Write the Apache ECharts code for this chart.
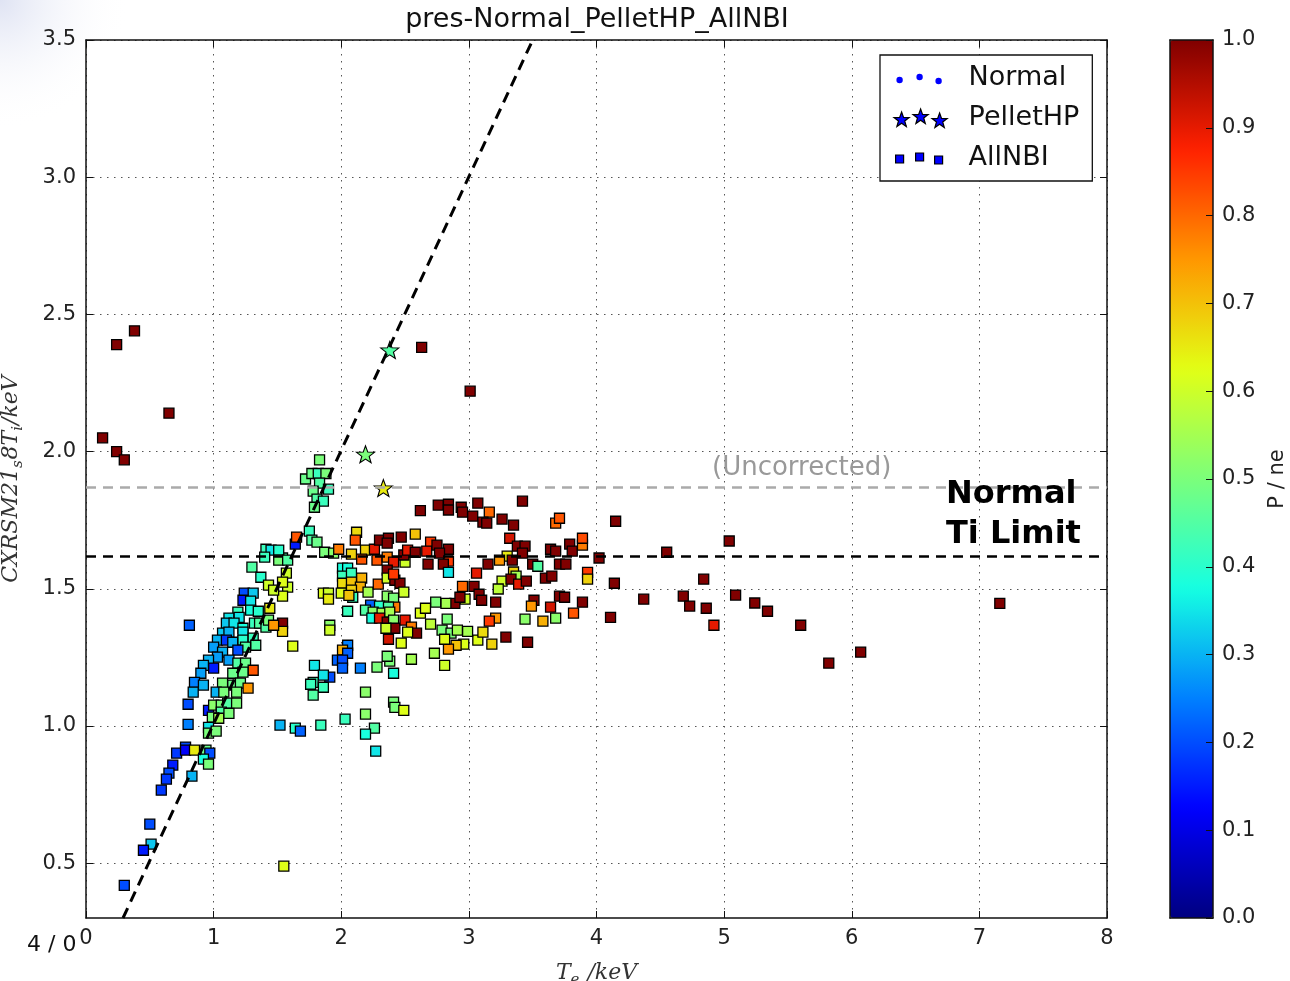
<!DOCTYPE html>
<html><head><meta charset="utf-8">
<script src="https://cdn.jsdelivr.net/npm/echarts@6/dist/echarts.min.js"></script>
<style>html,body{margin:0;padding:0;background:#fff}#c{width:1290px;height:981px}</style>
</head><body><div id="c"></div>
<script>
// ---------- data (Te [keV], Ti [keV], P/ne) ----------
const xTicks = [0, 1, 2, 3, 4, 5, 6, 7, 8];
const yTicks = [0.5, 1.0, 1.5, 2.0, 2.5, 3.0, 3.5];
const cbTicks = [0, 0.1, 0.2, 0.3, 0.4, 0.5, 0.6, 0.7, 0.8, 0.9, 1.0];
const normalTiLimit = 1.62;
const uncorrectedLimit = 1.87;
const diagonalLine = [[0.29, 0.3], [3.5, 3.5]];

const pelletHP = [[2.38, 2.37, 0.45], [2.19, 1.99, 0.5], [2.33, 1.867, 0.65]];

const allNbiHighTi = [[0.13,2.05,1],[0.24,2.39,1],[0.38,2.44,1],[0.24,2.00,1],[0.30,1.97,1],[0.65,2.14,1],[2.63,2.38,1],[3.01,2.22,1]];

const allNbiGreenCluster = [[1.83,1.97,0.5],[1.72,1.90,0.48],[1.77,1.92,0.48],[1.82,1.92,0.42],[1.88,1.92,0.5],[1.83,1.885,0.45],[1.90,1.863,0.42],[1.78,1.856,0.48],[1.81,1.827,0.45],[1.86,1.819,0.42],[1.79,1.797,0.48],[1.75,1.71,0.42],[1.77,1.677,0.45],[1.81,1.67,0.48],[1.87,1.633,0.5],[1.94,1.63,0.52],[1.98,1.644,0.78],[1.64,1.663,0.15],[1.65,1.688,0.82]];

const allNbiMidBand = [[2.12,1.706,0.67],[2.11,1.677,0.82],[2.19,1.641,0.68],[2.08,1.626,0.68],[2.16,1.608,0.82],[2.26,1.644,0.9],[2.30,1.677,1],[2.37,1.684,1],[2.47,1.688,1],[2.58,1.699,0.7],[2.36,1.666,1],[2.28,1.604,0.82],[2.36,1.615,0.78],[2.41,1.597,0.9],[2.50,1.597,0.6],[2.49,1.623,1],[2.52,1.641,0.9],[2.58,1.633,1],[2.62,1.785,1],
[1.54,1.612,0.45],[1.57,1.557,0.6],[1.58,1.506,0.6],[1.54,1.473,0.62],
[2.01,1.575,0.38],[2.05,1.575,0.38],[2.01,1.546,0.42],[2.08,1.557,0.42],[2.01,1.52,0.67],[2.08,1.524,0.7],[2.16,1.539,0.72],[2.15,1.506,0.72],[2.08,1.495,0.68],[2.09,1.469,0.42],[2.21,1.488,0.55],[2.29,1.517,0.8],[2.36,1.568,1],[2.36,1.539,0.6],[2.42,1.531,1],[2.46,1.52,1],[2.41,1.553,0.85],[2.49,1.488,0.6],[2.36,1.473,0.52],[2.41,1.466,0.5],[2.42,1.433,0.78],[2.23,1.44,0.22],[2.30,1.437,0.4],[2.37,1.433,0.45],[2.19,1.422,0.45],[2.25,1.415,0.52],[2.32,1.411,0.55],[2.38,1.415,0.55],[2.24,1.393,0.38],[2.30,1.393,0.9],[2.36,1.378,1],[2.41,1.386,0.52],[2.42,1.356,1],[2.35,1.356,0.6],[2.50,1.386,0.9],[2.55,1.36,0.78],[2.59,1.338,1],[2.52,1.342,0.62],[2.37,1.316,0.92],[2.47,1.302,0.62],[2.62,1.411,0.62],[2.05,1.418,0.42],[1.86,1.484,0.62],[1.90,1.484,0.6],[1.90,1.462,0.65],[2.00,1.484,0.62],[2.06,1.476,0.7],[1.91,1.367,0.52],[1.91,1.349,0.6],[1.54,1.375,1],[1.54,1.345,0.68],[1.62,1.291,0.62]];

const allNbiLowMid = [[2.05,1.294,0.25],[2.01,1.276,0.72],[2.05,1.265,0.22],[1.97,1.24,0.22],[2.01,1.24,0.2],[2.01,1.211,0.22],[2.15,1.211,0.25],[1.79,1.221,0.35],[1.91,1.178,0.2],[1.86,1.185,0.35],[1.78,1.159,0.42],[1.76,1.152,0.42],[1.86,1.141,0.42],[1.78,1.112,0.45],[2.19,1.123,0.52],[2.19,1.043,0.52],[2.03,1.025,0.42],[1.84,1.003,0.42],[1.52,1.003,0.3],[1.64,0.992,0.4],[1.68,0.981,0.22],[2.26,0.992,0.45],[2.19,0.97,0.38],[2.27,0.908,0.35],[2.41,1.087,0.5],[2.42,1.068,0.5],[2.49,1.057,0.62],[2.55,1.243,0.55],[2.38,1.236,0.5],[2.36,1.254,0.5],[2.28,1.214,0.5],[2.41,1.192,0.38],[2.81,1.221,0.6]];

const allNbiLowLeft = [[0.80,1.079,0.2],[0.80,1.006,0.25],[0.96,1.057,0.15],[1.00,1.076,0.52],[1.06,1.076,0.5],[1.11,1.083,0.45],[1.18,1.083,0.5],[0.99,1.032,0.5],[1.06,1.05,0.45],[1.04,1.028,0.55],[1.12,1.046,0.5],[0.96,0.995,0.35],[0.96,0.974,0.5],[1.02,0.981,0.5],[0.78,0.923,0.2],[0.71,0.901,0.18],[0.78,0.912,0.12],[0.85,0.912,0.65],[0.68,0.857,0.15],[0.65,0.828,0.2],[0.63,0.806,0.18],[0.83,0.817,0.3],[0.94,0.912,0.48],[0.97,0.901,0.2],[0.92,0.879,0.38],[0.96,0.861,0.5],[0.59,0.766,0.18],[0.50,0.642,0.2],[0.51,0.569,0.32],[0.45,0.547,0.15],[0.30,0.419,0.2],[1.55,0.489,0.62]];

const allNbiMainCluster = [[0.81,1.367,0.22],[1.41,1.644,0.42],[1.45,1.641,0.35],[1.51,1.641,0.4],[1.40,1.615,0.42],[1.51,1.604,0.5],[1.58,1.604,0.45],[1.30,1.579,0.45],[1.37,1.542,0.4],[1.43,1.513,0.6],[1.54,1.524,0.62],[1.47,1.495,0.6],[1.44,1.429,0.65],[1.24,1.484,0.2],[1.31,1.484,0.32],[1.23,1.458,0.15],[1.29,1.455,0.35],[1.29,1.422,0.38],[1.35,1.418,0.4],[1.19,1.415,0.42],[1.12,1.393,0.35],[1.20,1.396,0.35],[1.10,1.375,0.32],[1.16,1.375,0.35],[1.23,1.356,0.38],[1.32,1.375,0.42],[1.36,1.375,0.45],[1.41,1.36,0.45],[1.43,1.386,0.5],[1.47,1.367,0.75],[1.07,1.338,0.32],[1.12,1.342,0.3],[1.23,1.342,0.35],[1.03,1.313,0.3],[1.10,1.313,0.18],[1.15,1.305,0.3],[1.23,1.313,0.4],[1.31,1.32,0.42],[1.33,1.294,0.45],[1.25,1.287,0.45],[1.19,1.276,0.2],[1.00,1.287,0.28],[1.07,1.269,0.3],[1.03,1.251,0.28],[0.96,1.24,0.3],[1.12,1.24,0.28],[1.19,1.229,0.45],[1.25,1.229,0.48],[1.31,1.203,0.82],[1.23,1.196,0.48],[1.15,1.192,0.48],[1.00,1.211,0.15],[0.92,1.221,0.3],[0.90,1.192,0.28],[0.85,1.159,0.25],[0.92,1.149,0.3],[1.07,1.156,0.5],[1.15,1.149,0.48],[1.21,1.156,0.48],[1.27,1.138,0.75],[0.84,1.123,0.3],[1.02,1.123,0.3],[1.08,1.123,0.5],[1.18,1.123,0.5]];

const allNbiRightMid = [[2.76,1.805,1],[2.84,1.808,1],[2.84,1.787,1],[2.94,1.797,1],[2.95,1.779,1],[3.07,1.812,1],[3.03,1.765,1],[3.16,1.779,0.8],[3.11,1.743,1],[3.14,1.739,1],[3.26,1.754,1],[3.35,1.732,1],[3.42,1.819,1],[3.68,1.739,0.8],[3.71,1.757,0.82],
[2.70,1.67,0.85],[2.67,1.637,0.9],[2.75,1.659,1],[2.84,1.644,1],[2.84,1.601,0.85],[2.77,1.63,1],[2.68,1.59,1],[2.80,1.59,1],[2.84,1.56,0.35],[3.32,1.684,0.92],[3.38,1.655,1],[3.44,1.655,1],[3.42,1.63,1],[3.30,1.619,0.65],[3.24,1.604,0.75],[3.34,1.604,1],[3.15,1.59,1],[3.06,1.557,0.9],[2.95,1.509,0.8],[3.04,1.509,1],[3.08,1.48,1],[3.10,1.458,1],[3.21,1.451,1],[3.26,1.528,0.6],[3.23,1.499,0.58],[3.35,1.561,0.68],[3.37,1.546,0.55],[3.33,1.535,1],[3.39,1.517,0.9],[3.45,1.528,1],[3.50,1.59,1],[3.54,1.582,0.45],[3.60,1.539,1],[3.65,1.546,1],[3.64,1.644,1],[3.68,1.637,1],[3.71,1.59,1],[3.76,1.59,1],[3.79,1.663,1],[3.81,1.637,1],[3.51,1.458,1],[3.49,1.437,0.75],[3.64,1.433,0.92],[3.71,1.473,1],[3.75,1.469,1],[3.82,1.411,0.82],[3.68,1.393,0.52],[3.58,1.382,0.72],[3.44,1.389,0.52],[3.46,1.305,1],[3.29,1.324,1],[3.21,1.393,0.75],[3.16,1.382,0.85],[3.18,1.298,0.68],[3.07,1.313,0.62],[3.11,1.342,0.67],[2.99,1.345,0.55],[2.96,1.298,0.62],[2.90,1.294,0.7],[2.84,1.28,0.75],[2.73,1.265,0.55],[2.97,1.462,0.6],[2.89,1.447,1],[2.93,1.469,1],[2.82,1.447,0.55],[2.74,1.451,0.5],[2.66,1.429,0.62],[2.70,1.371,0.58],[2.83,1.389,0.5],[2.79,1.349,0.5],[2.86,1.338,0.5],[2.91,1.349,0.55],[2.81,1.316,0.62]];

const allNbiRightTail = [[4.15,1.746,1],[4.02,1.612,1],[4.55,1.633,1],[5.04,1.674,1],[4.14,1.52,1],[4.84,1.535,1],[4.37,1.462,1],[4.68,1.473,1],[4.73,1.437,1],[4.86,1.429,1],[4.92,1.367,0.9],[4.11,1.396,1],[5.09,1.477,1],[5.24,1.448,1],[5.34,1.418,1],[5.60,1.367,1],[5.82,1.229,1],[6.07,1.269,1],[7.16,1.447,1],[3.89,1.451,1],[3.93,1.56,0.85],[3.93,1.535,0.68],[3.89,1.659,0.78],[3.89,1.684,0.83]];

const allNBI = [].concat(allNbiHighTi, allNbiGreenCluster, allNbiMidBand, allNbiLowMid, allNbiLowLeft, allNbiMainCluster, allNbiRightMid, allNbiRightTail);

// ---------- styling helpers ----------
const jet = ['#000080','#0000ff','#0080ff','#15ffe2','#7bff7b','#e2ff15','#ff9700','#ff2100','#800000'];
function starPath(cx, cy, R) {
  const r = R * 0.41, pts = [];
  for (let k = 0; k < 10; k++) {
    const a = -Math.PI / 2 + k * Math.PI / 5, rr = k % 2 ? r : R;
    pts.push((cx + rr * Math.cos(a)).toFixed(2) + ',' + (cy + rr * Math.sin(a)).toFixed(2));
  }
  return 'M' + pts.join('L') + 'Z';
}
function circlePath(cx, cy, r) {
  return 'M' + (cx - r) + ',' + cy + 'a' + r + ',' + r + ' 0 1,0 ' + (2 * r) + ',0a' + r + ',' + r + ' 0 1,0 ' + (-2 * r) + ',0Z';
}
const box = 'M0,0M54,22';
const iconDots = 'path://' + box + circlePath(6, 13, 3.2) + circlePath(26, 10, 3.2) + circlePath(45, 14, 3.2);
const iconStars = 'path://' + box + starPath(8, 13, 8) + starPath(27, 10, 8) + starPath(46, 14, 8);
const iconSquares = 'path://' + box + 'M2,8h8v8h-8zM22,6h8v8h-8zM41,9h8v8h-8z';

const sansFont = 'DejaVu Sans';
const tickLbl = { fontSize: 21, color: '#222', fontFamily: sansFont };
const frameLine = { show: true, onZero: false, lineStyle: { color: '#111', width: 1.5 } };
const gridDots = { show: true, lineStyle: { color: '#555', width: 1, type: [1.5, 5.5] } };
const mathRich = {
  t: { fontFamily: 'DejaVu Serif', fontStyle: 'italic', fontSize: 22, color: '#333', lineHeight: 30 },
  s: { fontFamily: 'DejaVu Serif', fontStyle: 'italic', fontSize: 15, color: '#333', lineHeight: 30, verticalAlign: 'bottom', padding: [0, 1, 0, 0] }
};

const chart = echarts.init(document.getElementById('c'), null, { renderer: 'canvas' });
chart.setOption({
  animation: false,
  backgroundColor: '#fff',
  grid: [
    { left: 86, top: 40, width: 1021, height: 878, show: true, backgroundColor: '#fff', borderWidth: 0, containLabel: false, outerBoundsMode: 'none' },
    { left: 1170, top: 40, width: 43, height: 878, show: false, containLabel: false, outerBoundsMode: 'none' }
  ],
  xAxis: [
    { gridIndex: 0, type: 'value', min: xTicks[0], max: xTicks[xTicks.length - 1], interval: 1, position: 'bottom',
      axisLine: frameLine, axisTick: { show: true, inside: true, length: 7, lineStyle: { color: '#111' } },
      axisLabel: Object.assign({ margin: 10 }, tickLbl), splitLine: gridDots,
      name: '{t|T}{s|e}{t| /keV}', nameLocation: 'middle', nameGap: 40, nameTextStyle: { rich: mathRich } },
    { gridIndex: 0, type: 'value', min: xTicks[0], max: xTicks[xTicks.length - 1], interval: 1, position: 'top',
      axisLine: frameLine, axisTick: { show: true, inside: true, length: 7, lineStyle: { color: '#111' } },
      axisLabel: { show: false }, splitLine: { show: false } },
    { gridIndex: 1, type: 'value', min: 0, max: 1, position: 'bottom', z: 10,
      axisLine: frameLine, axisTick: { show: false }, axisLabel: { show: false }, splitLine: { show: false } },
    { gridIndex: 1, type: 'value', min: 0, max: 1, position: 'top', z: 10,
      axisLine: frameLine, axisTick: { show: false }, axisLabel: { show: false }, splitLine: { show: false } }
  ],
  yAxis: [
    { gridIndex: 0, type: 'value', min: 0.3, max: 3.5, position: 'left',
      axisLine: frameLine,
      axisTick: { show: true, inside: true, length: 7, customValues: yTicks, lineStyle: { color: '#111' } },
      axisLabel: Object.assign({ margin: 10, customValues: yTicks, formatter: v => v.toFixed(1) }, tickLbl),
      splitLine: gridDots,
      name: '{t|CXRSM21}{s|s}{t|8T}{s|i}{t|/keV}', nameLocation: 'middle', nameRotate: 90, nameGap: 60,
      nameTextStyle: { rich: mathRich } },
    { gridIndex: 0, type: 'value', min: 0.3, max: 3.5, position: 'right',
      axisLine: frameLine,
      axisTick: { show: true, inside: true, length: 7, customValues: yTicks, lineStyle: { color: '#111' } },
      axisLabel: { show: false, customValues: yTicks }, splitLine: { show: false } },
    { gridIndex: 1, type: 'value', min: 0, max: 1, interval: 0.1, position: 'right', z: 10,
      axisLine: frameLine,
      axisTick: { show: true, inside: true, length: 7, lineStyle: { color: '#111' } },
      axisLabel: Object.assign({ margin: 9, formatter: v => v.toFixed(1) }, tickLbl),
      splitLine: { show: false },
      name: 'P / ne', nameLocation: 'middle', nameRotate: 90, nameGap: 54,
      nameTextStyle: { fontSize: 21, color: '#222', fontFamily: sansFont } },
    { gridIndex: 1, type: 'value', min: 0, max: 1, position: 'left', z: 10,
      axisLine: frameLine, axisTick: { show: false }, axisLabel: { show: false }, splitLine: { show: false } }
  ],
  visualMap: {
    type: 'continuous', min: 0, max: 1, dimension: 2, seriesIndex: [1, 2],
    inRange: { color: jet }, calculable: false, orient: 'vertical',
    left: 1170, top: 40, itemWidth: 43, itemHeight: 878, padding: 0, text: null, hoverLink: false
  },
  legend: {
    orient: 'vertical', left: 880, top: 55, padding: [8, 13, 8, 13], itemGap: 10,
    itemWidth: 54, itemHeight: 22, borderColor: '#111', borderWidth: 1.3, borderRadius: 0,
    backgroundColor: '#fff', selectedMode: false, z: 20,
    textStyle: { fontSize: 27, color: '#111', fontFamily: sansFont, lineHeight: 30, padding: [0, 0, 0, 16] },
    data: [
      { name: 'Normal', icon: iconDots, itemStyle: { color: '#0000ff', borderWidth: 0, opacity: 1 } },
      { name: 'PelletHP', icon: iconStars, itemStyle: { color: '#0000ff', borderColor: '#000', borderWidth: 1.2 } },
      { name: 'AllNBI', icon: iconSquares, itemStyle: { color: '#0000ff', borderColor: '#000', borderWidth: 1.2 } }
    ]
  },
  series: [
    { name: 'Normal', type: 'scatter', data: [], symbol: 'circle', itemStyle: { color: '#0000ff' } },
    { name: 'PelletHP', type: 'scatter', data: pelletHP, symbol: 'path://' + starPath(0, 0, 8), symbolSize: [18, 17],
      itemStyle: { borderColor: '#000', borderWidth: 1.1, opacity: 1 }, z: 4 },
    { name: 'AllNBI', type: 'scatter', data: allNBI, symbol: 'rect', symbolSize: 10,
      itemStyle: { borderColor: '#000', borderWidth: 1.3, opacity: 1 }, z: 3 },
    { name: 'limits', type: 'line', data: diagonalLine, symbol: 'none', silent: true, z: 6,
      lineStyle: { color: '#000', width: 3, type: [11, 7] },
      markLine: { silent: true, symbol: 'none', label: { show: false }, animation: false,
        data: [
          { yAxis: normalTiLimit, lineStyle: { color: '#000', width: 2.5, type: [10, 7] } },
          { yAxis: uncorrectedLimit, lineStyle: { color: '#aaa', width: 2.5, type: [10, 7] } }
        ] } }
  ],
  graphic: [
    { type: 'rect', z: -100, silent: true, shape: { x: 0, y: 0, width: 260, height: 260 },
      style: { fill: new echarts.graphic.RadialGradient(0, 0, 0.5, [{ offset: 0, color: '#dfe3f3' }, { offset: 1, color: 'rgba(255,255,255,0)' }]) } },
    { type: 'text', x: 597, y: 20, z: 10, style: { text: 'pres-Normal_PelletHP_AllNBI', font: '27px "DejaVu Sans"', fill: '#111', align: 'center', verticalAlign: 'middle', textAlign: 'center', textVerticalAlign: 'middle' } },
    { type: 'text', x: 712, y: 468, z: 10, style: { text: '(Uncorrected)', font: '26px "DejaVu Sans"', fill: '#999', align: 'left', verticalAlign: 'middle', textAlign: 'left', textVerticalAlign: 'middle' } },
    { type: 'text', x: 946, y: 495, z: 10, style: { text: 'Normal', font: 'bold 32px "DejaVu Sans"', fill: '#000', align: 'left', verticalAlign: 'middle', textAlign: 'left', textVerticalAlign: 'middle' } },
    { type: 'text', x: 946, y: 535, z: 10, style: { text: 'Ti Limit', font: 'bold 32px "DejaVu Sans"', fill: '#000', align: 'left', verticalAlign: 'middle', textAlign: 'left', textVerticalAlign: 'middle' } },
    { type: 'text', x: 27, y: 945, z: 10, style: { text: '4 / 0', font: '22px "DejaVu Sans"', fill: '#111', align: 'left', verticalAlign: 'middle', textAlign: 'left', textVerticalAlign: 'middle' } }
  ]
});
</script>
</body></html>
